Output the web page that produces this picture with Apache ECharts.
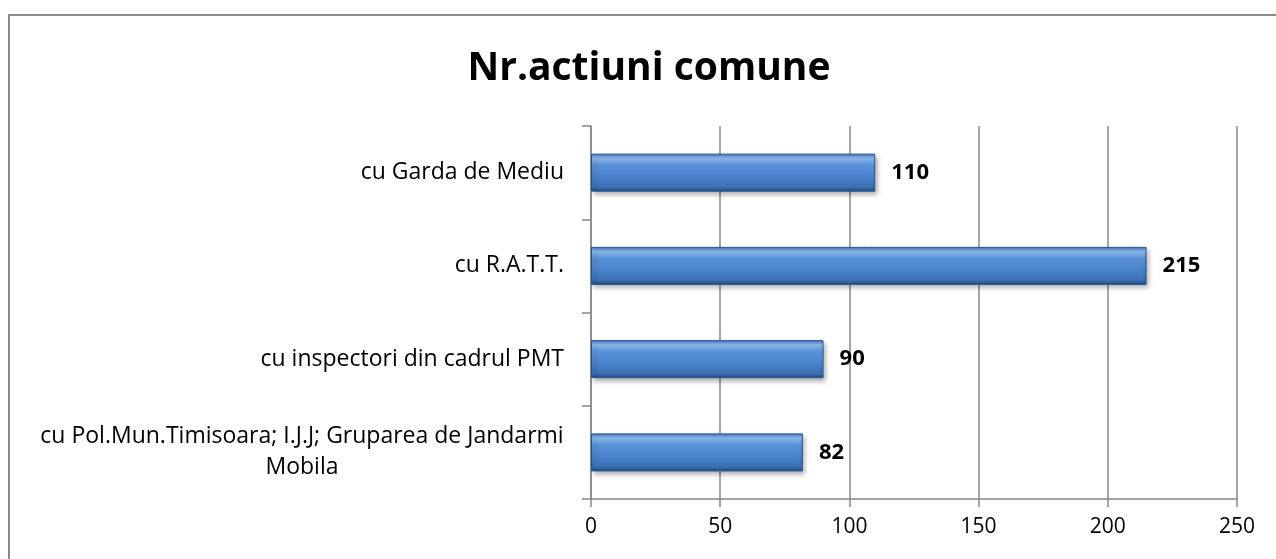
<!DOCTYPE html>
<html>
<head>
<meta charset="utf-8">
<script src="https://cdn.jsdelivr.net/npm/echarts@6/dist/echarts.min.js"></script>
<style>
  html, body { margin: 0; padding: 0; background: #fff; }
  #chart { width: 1276px; height: 559px; }
</style>
</head>
<body>
<div id="chart"></div>
<script>
// data
const categories = [
  "cu Garda de Mediu",
  "cu R.A.T.T.",
  "cu inspectori din cadrul PMT",
  "cu Pol.Mun.Timisoara; I.J.J; Gruparea de Jandarmi Mobila",
];
const values = [110, 215, 90, 82];
const xTicks = [0, 50, 100, 150, 200, 250];

const labelFont = "23px 'Open Sans'";

// width of the first line of the wrapped label, so the second one centres under it
function textWidth(s) {
  const c = document.createElement("canvas").getContext("2d");
  c.font = labelFont;
  return Math.ceil(c.measureText(s).width);
}

const chart = echarts.init(document.getElementById("chart"));

const option = {
  animation: false,
  title: {
    text: "Nr.actiuni comune",
    left: 644,
    textAlign: "center",
    top: 44,
    textStyle: {
      fontFamily: "Open Sans",
      fontWeight: "bold",
      fontSize: 39,
      color: "#000",
    },
  },
  graphic: [
    {
      type: "rect",
      shape: { x: 9, y: 15, width: 1400, height: 700 },
      style: { fill: "none", stroke: "#888", lineWidth: 2 },
      silent: true,
    },
  ],
  grid: {
    left: 591,
    right: 39,
    top: 126,
    bottom: 60,
  },
  xAxis: {
    type: "value",
    min: xTicks[0],
    max: xTicks[xTicks.length - 1],
    interval: 50,
    axisLine: { show: true, lineStyle: { color: "#888", width: 1.5 } },
    axisTick: { show: true, length: 8, lineStyle: { color: "#888", width: 1.5 } },
    axisLabel: {
      margin: 18,
      fontFamily: "Open Sans",
      fontSize: 21,
      color: "#000",
    },
    splitLine: { show: true, lineStyle: { color: "#888", width: 1.5 } },
  },
  yAxis: {
    type: "category",
    inverse: true,
    data: categories,
    axisLine: { show: true, lineStyle: { color: "#888", width: 1.5 } },
    axisTick: { show: true, length: 9, lineStyle: { color: "#888", width: 1.5 } },
    axisLabel: {
      margin: 27,
      fontFamily: "Open Sans",
      fontSize: 23,
      color: "#000",
      // long label wraps on two lines like the original
      formatter: (v) => {
        if (v.length > 40) {
          const i = v.lastIndexOf(" ");
          return "{w|" + v.slice(0, i) + "}\n{w|" + v.slice(i + 1) + "}";
        }
        return v;
      },
      rich: {
        w: {
          fontFamily: "Open Sans",
          fontSize: 23,
          color: "#000",
          width: textWidth(categories[3].slice(0, categories[3].lastIndexOf(" "))),
          align: "center",
          lineHeight: 31,
        },
      },
    },
  },
  series: [
    {
      type: "bar",
      data: values,
      barWidth: 38,
      itemStyle: {
        color: new echarts.graphic.LinearGradient(0, 0, 0, 1, [
          { offset: 0, color: "#3d73b8" },
          { offset: 0.12, color: "#8fbdf0" },
          { offset: 0.3, color: "#5a92d8" },
          { offset: 0.6, color: "#4a82cc" },
          { offset: 0.88, color: "#3c6fb2" },
          { offset: 1, color: "#1f4a80" },
        ]),
        borderColor: "#2a5590",
        borderWidth: 1,
        shadowColor: "rgba(0,0,0,0.35)",
        shadowBlur: 5,
        shadowOffsetX: 2,
        shadowOffsetY: 3,
      },
      label: {
        show: true,
        position: "right",
        distance: 16,
        fontFamily: "Open Sans",
        fontWeight: "bold",
        fontSize: 22,
        color: "#000",
      },
    },
  ],
};

chart.setOption(option);
</script>
</body>
</html>
